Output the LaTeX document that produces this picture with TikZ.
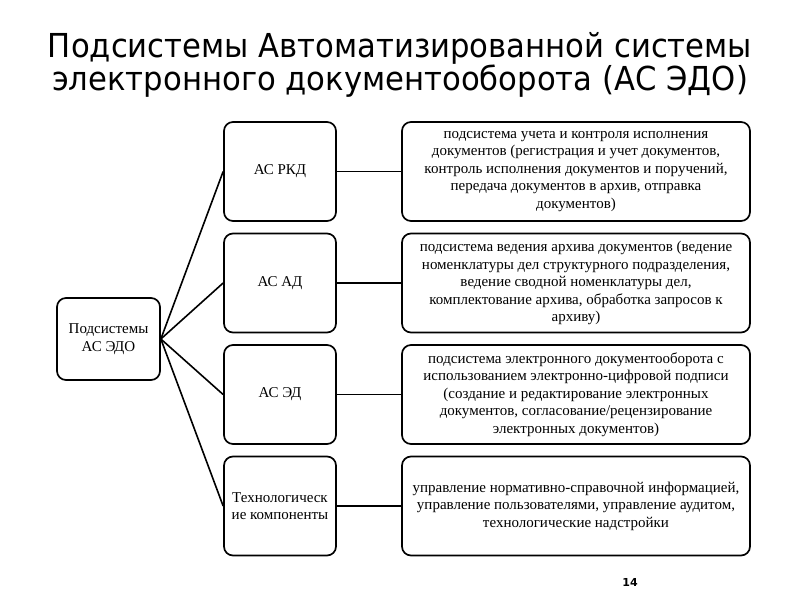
\documentclass[tikz,border=0pt]{standalone}
\usepackage{fontspec}
\setmainfont{Liberation Serif}
\newfontfamily\titlefont[FakeStretch=0.93]{DejaVu Sans}
\newfontfamily\numfont{DejaVu Sans}
\begin{document}
\begin{tikzpicture}[x=1pt,y=-1pt,
  box/.style={draw, line width=1.7pt, rounded corners=9pt, inner sep=0pt, align=center,
    font=\fontsize{15}{17.5}\selectfont},
  rootbox/.style={box, minimum width=103pt, minimum height=82pt},
  midbox/.style={box, minimum width=112pt, minimum height=99pt},
  descbox/.style={box, minimum width=348pt, minimum height=99pt},
  titletext/.style={font=\titlefont\fontsize{33}{33}\selectfont, anchor=base, inner sep=0pt},
  link/.style={line width=1.6pt}]
\useasboundingbox (0,0) rectangle (800,600);
\node[titletext] (title1) at (400,57) {Подсистемы Автоматизированной системы};
\node[titletext] (title2) at (400,90) {электронного документооборота (АС ЭДО)};
\node[rootbox] (root) at (108.5,339) {Подсистемы\\АС ЭДО};
\node[midbox] (m1) at (280,171.5) {АС РКД};
\node[midbox] (m2) at (280,283) {АС АД};
\node[midbox] (m3) at (280,394.5) {АС ЭД};
\node[midbox] (m4) at (280,506) {Технологическ\\ие компоненты};
\node[descbox] (d1) at (576,171.5) {подсистема учета и контроля исполнения\\документов (регистрация и учет документов,\\контроль исполнения документов и поручений,\\передача документов в архив, отправка\\документов)};
\node[descbox] (d2) at (576,283) {подсистема ведения архива документов (ведение\\номенклатуры дел структурного подразделения,\\ведение сводной номенклатуры дел,\\комплектование архива, обработка запросов к\\архиву)};
\node[descbox] (d3) at (576,394.5) {подсистема электронного документооборота с\\использованием электронно-цифровой подписи\\(создание и редактирование электронных\\документов, согласование/рецензирование\\электронных документов)};
\node[descbox] (d4) at (576,506) {управление нормативно-справочной информацией,\\управление пользователями, управление аудитом,\\технологические надстройки};
\foreach \i in {1,2,3,4} {
  \draw[link] (root.east) -- (m\i.west);
  \draw[link] (m\i.east) -- (d\i.west);
}
\node[font=\numfont\bfseries\fontsize{11}{13}\selectfont] (page) at (630,582) {14};
\end{tikzpicture}
\end{document}
